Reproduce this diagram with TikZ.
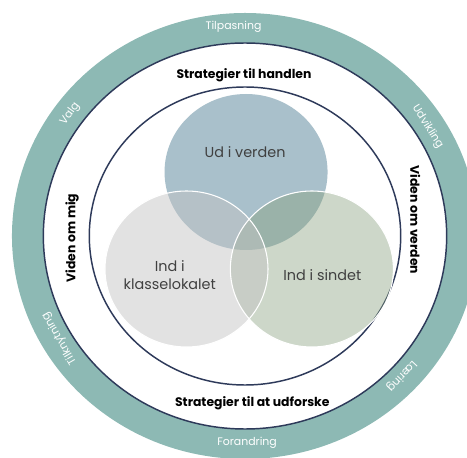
\documentclass[tikz,border=0pt]{standalone}
\usepackage{fontspec}
\setmainfont{Poppins}
\usetikzlibrary{positioning}

\definecolor{ringteal}{HTML}{8DB9B4}
\definecolor{ringline}{HTML}{2E3A5A}
\definecolor{udfill}{HTML}{A9C0CB}
\definecolor{klassefill}{HTML}{C3C3C3}
\definecolor{sindfill}{HTML}{849D78}

\tikzset{
  ringlabel/.style={text=white, font=\fontsize{8.2}{9}\selectfont},
  bandlabel/.style={text=black, font=\fontsize{9.3}{11}\selectfont\bfseries},
  venntext/.style={text=black!75, align=center, font=\fontsize{10.8}{13}\selectfont},
  darkring/.style={draw=ringline, line width=1.1pt},
  vennedge/.style={draw=white, line width=0.8pt},
}

\begin{document}
\begin{tikzpicture}[x=0.75pt,y=0.75pt]
    \useasboundingbox (0,0) rectangle (467,457);
    \begin{scope}[shift={(245,221)}, xscale=1.045]
    % Outer ring
    \fill[ringteal] (0,0) circle (223);
    \fill[white] (0,0) circle (193);
    \draw[darkring] (0,0) circle (193);
    \draw[darkring] (0,0) circle (149);

    % Venn circles
    \fill[udfill] (1,64) circle (78);
    \fill[sindfill, fill opacity=0.4] (64,-33) circle (78);
    \fill[klassefill, fill opacity=0.47] (-56,-33) circle (78);
    \draw[vennedge] (64,-33) circle (78);
    \draw[vennedge] (-56,-33) circle (78);

    \node[venntext] (ud) at (0,84) {Ud i verden};
    \node[venntext] (klasse) at (-72,-39) {Ind i\\klasselokalet};
    \node[venntext] (sind) at (74,-39) {Ind i sindet};

    % Texts between the rings
    \node[bandlabel] (handlen) at (-1,161) {Strategier til handlen};
    \node[bandlabel] (udforske) at (7,-167) {Strategier til at udforske};
    \node[bandlabel, rotate=90] (mig) at (-165.5,-2) {Viden om mig};
    \node[bandlabel, rotate=-90] (verden) at (163,16) {Viden om verden};

    % Texts on the ring
    \node[ringlabel] (tilpasning) at (93:209) {Tilpasning};
    \node[ringlabel, rotate=-58] (udvikling) at (32:206) {Udvikling};
    \node[ringlabel, rotate=-133] (laering) at (-43:205) {Læring};
    \node[ringlabel] (forandring) at (2,-207) {Forandring};
    \node[ringlabel, rotate=120] (tilknytning) at (210:205) {Tilknytning};
    \node[ringlabel, rotate=54] (valg) at (144:207) {Valg};
    \end{scope}
\end{tikzpicture}
\end{document}
